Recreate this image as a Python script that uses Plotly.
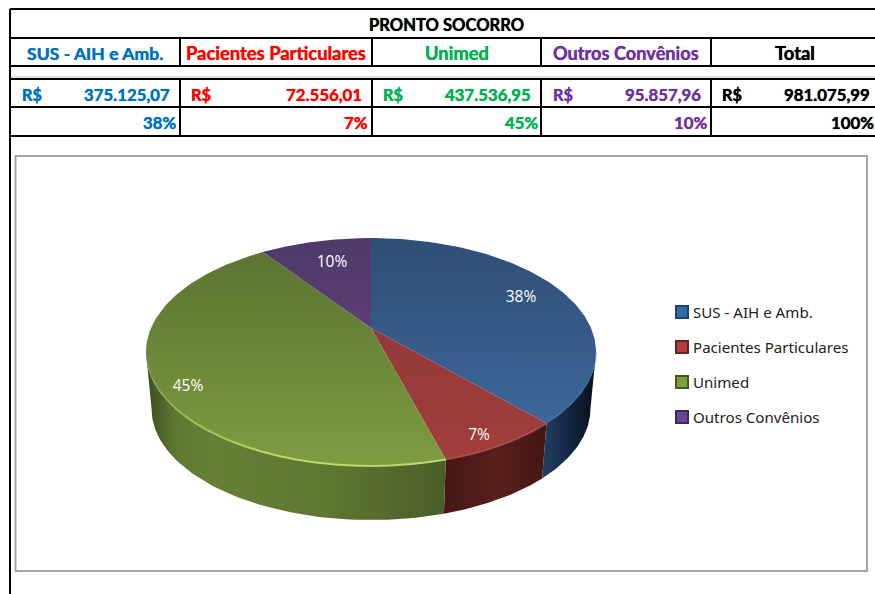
import numpy as np
import plotly.graph_objects as go

# ---------- data ----------
title = "PRONTO SOCORRO"
categories = ["SUS - AIH e Amb.", "Pacientes Particulares", "Unimed", "Outros Convênios"]
values = [375125.07, 72556.01, 437536.95, 95857.96]
amount_labels = ["375.125,07", "72.556,01", "437.536,95", "95.857,96", "981.075,99"]
percent_labels = ["38%", "7%", "45%", "10%", "100%"]
header_labels = categories + ["Total"]
currency = "R$"

# ---------- style ----------
W, H = 875, 594
text_colors = ["#0070C0", "#FF0000", "#00B050", "#7030A0", "#000000"]
top_grad = [("#3e6699", "#2e4e75"), ("#a03e3b", "#93393a"), ("#7d9c42", "#5c7431"), ("#5b4072", "#50386a")]
side_grad = [
    [[0, "#223f63"], [0.5, "#12273f"], [1, "#070f1c"]],
    [[0, "#431715"], [0.5, "#581f1c"], [1, "#431614"]],
    [[0, "#3b4d1e"], [0.1, "#5f7831"], [0.22, "#687f36"], [0.6, "#5f7731"], [1, "#4a5d28"]],
    None,
]
legend_colors = ["#2f6cab", "#b03e3c", "#7ba03c", "#67489a"]
legend_edges = ["#24405f", "#632422", "#46591f", "#3d2a55"]
rim_colors = ["#3f6a9c", "#b05350", "#bcd86e", "#6a4c80"]
rim_opacity = [(0.25, 0.25), (0.7, 0.7), (1.6, 0.0), (0, 0)]

FONT = "Lato"
col_lines = [180, 372, 541, 711]
cell_centers = [95, 276, 457, 626, 795]
cur_x = [21, 190, 382, 552, 721]
amount_right = [171, 363, 532, 702, 871]
pct_right = [177, 369, 539, 708, 875]
header_sizes = [17.6, 18.4, 18.4, 18.2, 18.4]

# ---------- pie geometry (perspective disc) ----------
CX, CY, A, B, K = 371.0, 328.0, 220.0, 108.9, 0.2105
SCALE, DROP = 0.975, 57.5


def project(theta, lower=False):
    u, v = np.sin(theta), -np.cos(theta)
    d = 1 - K * v
    s, dy = (SCALE, DROP) if lower else (1.0, 0.0)
    return CX + s * A * u / d, CY + s * B * v / d + dy


fractions = np.array(values) / sum(values)
edges = np.concatenate([[0], np.cumsum(fractions)]) * 2 * np.pi
SIL_R, SIL_L = np.pi - np.arccos(K), np.pi + np.arccos(K)

fig = go.Figure()

# side walls
for i in range(4):
    a, b = max(edges[i], SIL_R), min(edges[i + 1], SIL_L)
    if b <= a or side_grad[i] is None:
        continue
    t = np.linspace(a, b, 70)
    xt, yt = project(t)
    xb, yb = project(t[::-1], lower=True)
    fig.add_trace(go.Scatter(
        x=np.concatenate([xt, xb]), y=np.concatenate([yt, yb]),
        mode="lines", line=dict(width=0), fill="toself",
        fillgradient=dict(type="horizontal", colorscale=side_grad[i]),
        hoverinfo="skip", showlegend=False))

# top faces
for i in range(4):
    t = np.linspace(edges[i], edges[i + 1], 120)
    xt, yt = project(t)
    c1, c2 = top_grad[i]
    fig.add_trace(go.Scatter(
        x=np.concatenate([[CX], xt, [CX]]), y=np.concatenate([[CY], yt, [CY]]),
        mode="lines", line=dict(width=0), fill="toself",
        fillgradient=dict(type="vertical", colorscale=[[0, c1], [1, c2]]),
        name=categories[i], hoverinfo="name", showlegend=False))

# bevel highlight along front rim, fading along its length
for i in range(4):
    a, b = max(edges[i], SIL_R), min(edges[i + 1], SIL_L)
    if b <= a:
        continue
    steps = np.linspace(a, b, 25)
    for j in range(24):
        f = j / 23
        t = np.linspace(steps[j], steps[j + 1], 6)
        xt, yt = project(t)
        op = rim_opacity[i][0] + (rim_opacity[i][1] - rim_opacity[i][0]) * f
        fig.add_trace(go.Scatter(x=xt, y=yt, mode="lines",
                                 line=dict(width=2, color=rim_colors[i]),
                                 opacity=min(op, 1.0),
                                 hoverinfo="skip", showlegend=False))

# slice percent labels
label_xy = [(521, 298), (479, 436), (188, 387), (332, 263)]
fig.add_trace(go.Scatter(
    x=[p[0] for p in label_xy], y=[p[1] for p in label_xy],
    mode="text", text=percent_labels[:4], textposition="middle center",
    textfont=dict(family="Open Sans", size=15.5, color="white"),
    hoverinfo="skip", showlegend=False))

# legend
legend_y = [312, 347, 382, 417]
fig.add_trace(go.Scatter(
    x=[682] * 4, y=legend_y, mode="markers",
    marker=dict(symbol="square", size=12, color=legend_colors,
                line=dict(width=2, color=legend_edges)),
    hoverinfo="skip", showlegend=False))

# ---------- table ----------
shapes = []


def hline(y, x0=10, x1=W, color="black", width=2):
    shapes.append(dict(type="line", x0=x0, x1=x1, y0=y, y1=y, line=dict(color=color, width=width), layer="above"))


def vline(x, y0, y1, color="black", width=2):
    shapes.append(dict(type="line", x0=x, x1=x, y0=y0, y1=y1, line=dict(color=color, width=width), layer="above"))


for y in [9, 38, 66, 79, 107, 136]:
    hline(y)
hline(77, color="#c8c8c8", width=1)
vline(10, 9, H)
for x in col_lines:
    vline(x, 38, 66)
    vline(x, 79, 136)
shapes.append(dict(type="rect", x0=15.5, x1=867, y0=156, y1=571,
                   line=dict(color="#a6a6a6", width=2), fillcolor="white", layer="below"))

ann = []


def text(x, y, s, color="black", size=18.4, anchor="center", bold=True, family=FONT):
    font = dict(family=family, size=size, color=color)
    if bold:
        font["shadow"] = f"0 0 0.8px {color}"
    ann.append(dict(x=x, y=y, text=f"<b>{s}</b>" if bold else s, showarrow=False, xanchor=anchor,
                    yanchor="middle", borderpad=0, font=font))


text(446, 25, title, size=16.6)
for i in range(5):
    c = text_colors[i]
    text(cell_centers[i], 53, header_labels[i], c, size=header_sizes[i])
    text(cur_x[i], 94, currency, c, size=16.4, anchor="left")
    text(amount_right[i], 94, amount_labels[i], c, size=16.8, anchor="right")
    text(pct_right[i], 122, percent_labels[i], c, size=16.8, anchor="right")
for i in range(4):
    text(692, legend_y[i], categories[i], "#222222", size=15.1, anchor="left", bold=False, family="Noto Sans")

fig.update_layout(
    width=W, height=H, margin=dict(l=0, r=0, t=0, b=0), autosize=False,
    paper_bgcolor="white", plot_bgcolor="white", showlegend=False,
    xaxis=dict(range=[0, W], visible=False, fixedrange=True),
    yaxis=dict(range=[H, 0], visible=False, fixedrange=True),
    shapes=shapes, annotations=ann,
)
fig.write_html("out.html", config=dict(displayModeBar=False),
               post_script="document.body.style.margin='0';document.body.style.overflow='hidden';")
